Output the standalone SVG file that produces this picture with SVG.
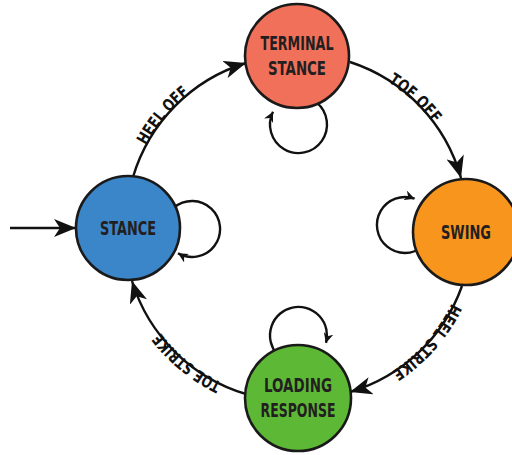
<svg xmlns="http://www.w3.org/2000/svg" width="512" height="455" viewBox="0 0 512 455">
<style>
.edge{fill:none;stroke:#111;stroke-width:2.4}
.big{marker-end:url(#arrowBig)}
.loop{marker-end:url(#arrowSmall)}
.node{stroke:#1a1a1a;stroke-width:2.6}
.nlabel{font-family:"DejaVu Sans Condensed","Liberation Sans",sans-serif;font-weight:bold;font-size:19px;fill:#231f20;text-anchor:middle}
.elabel{font-family:"DejaVu Sans Condensed","Liberation Sans",sans-serif;font-weight:bold;font-size:16.5px;fill:#111;text-anchor:middle}
</style>
<defs>
<marker id="arrowBig" markerUnits="userSpaceOnUse" markerWidth="24" markerHeight="18" refX="22" refY="9" orient="auto">
<path d="M0,0 L22,9 L0,18 L6,9 z" fill="#111"/>
</marker>
<marker id="arrowSmall" markerUnits="userSpaceOnUse" markerWidth="12" markerHeight="10" refX="10" refY="5" orient="auto">
<path d="M0,0 L10,5 L0,10 L3,5 z" fill="#111"/>
</marker>
<path id="textRing" d="M125,228 A172 172 0 1 1 469,228 A172 172 0 1 1 125,228"/>
</defs>
<rect width="512" height="455" fill="#fff"/>
<g id="connectors">
<path class="edge big" d="M10,228 L76,228"/>
<path class="edge big" d="M133,177 A170 170 0 0 1 246,63"/>
<path class="edge big" d="M350,62 A170 170 0 0 1 461,178"/>
<path class="edge big" d="M462,286 A170 170 0 0 1 350,392"/>
<path class="edge big" d="M246,394 A170 170 0 0 1 132,281"/>
<path class="edge loop" d="M316.8,102.7 A28.5 28.5 0 1 1 273,111.8"/>
<path class="edge loop" d="M423,246.4 A28 28 0 1 1 414.6,198.7"/>
<path class="edge loop" d="M276.7,353.8 A28.5 28.5 0 1 1 326,342.9"/>
<path class="edge loop" d="M174,207.6 A28 28 0 1 1 178,253.2"/>
<text class="elabel"><textPath href="#textRing" startOffset="120" textLength="68" lengthAdjust="spacingAndGlyphs">HEEL OFF</textPath></text>
<text class="elabel"><textPath href="#textRing" startOffset="397" textLength="62" lengthAdjust="spacingAndGlyphs">TOE OFF</textPath></text>
<text class="elabel"><textPath href="#textRing" startOffset="664" textLength="92" lengthAdjust="spacingAndGlyphs">HEEL STRIKE</textPath></text>
<text class="elabel"><textPath href="#textRing" startOffset="928" textLength="80" lengthAdjust="spacingAndGlyphs">TOE STRIKE</textPath></text>
</g>
<g id="stance">
<circle class="node" cx="128" cy="228" r="52" fill="#3b86c8"/>
<text class="nlabel" x="128" y="235" textLength="56" lengthAdjust="spacingAndGlyphs">STANCE</text>
</g>
<g id="terminal-stance">
<circle class="node" cx="297" cy="56" r="52" fill="#f0705a"/>
<text class="nlabel" x="297" y="50" textLength="73" lengthAdjust="spacingAndGlyphs">TERMINAL</text>
<text class="nlabel" x="297" y="75" textLength="58" lengthAdjust="spacingAndGlyphs">STANCE</text>
</g>
<g id="swing">
<circle class="node" cx="466" cy="232" r="53" fill="#f7951d"/>
<text class="nlabel" x="466" y="239" textLength="50" lengthAdjust="spacingAndGlyphs">SWING</text>
</g>
<g id="loading-response">
<circle class="node" cx="298" cy="398" r="53" fill="#5db935"/>
<text class="nlabel" x="298" y="392" textLength="68" lengthAdjust="spacingAndGlyphs">LOADING</text>
<text class="nlabel" x="298" y="417" textLength="75" lengthAdjust="spacingAndGlyphs">RESPONSE</text>
</g>
</svg>
